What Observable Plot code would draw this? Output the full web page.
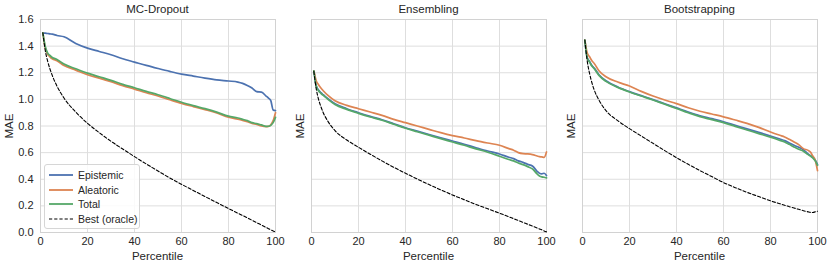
<!DOCTYPE html>
<html><head><meta charset="utf-8">
<script src="https://cdn.jsdelivr.net/npm/d3@7"></script>
<script src="https://cdn.jsdelivr.net/npm/@observablehq/plot@0.6"></script>
<style>
body{margin:0;background:#fff;}
#chart{position:relative;width:831px;height:268px;font-family:"Liberation Sans",Arial,sans-serif;color:#262626;overflow:hidden;}
.panel{position:absolute;top:0;}
.lbl{position:absolute;white-space:nowrap;transform:translate(-50%,-50%);font-size:11.5px;line-height:1;}
.ylbl{position:absolute;white-space:nowrap;transform:translate(-50%,-50%) rotate(-90deg);font-size:11.5px;line-height:1;}
#legend{position:absolute;left:44px;top:164px;width:96px;height:65px;border:1px solid #d6d6d6;border-radius:3px;background:rgba(255,255,255,0.85);box-sizing:border-box;font-size:10.5px;}
#legend .row{position:absolute;left:4px;height:14px;display:flex;align-items:center;white-space:nowrap;}
#legend svg{width:24px;height:6px;margin-right:5px;flex:none;}
</style>
</head><body>
<div id="chart"></div>
<script>
// Shared percentile positions
const pct = [1,2,3,4,5,7,10,15,20,25,30,35,40,45,50,55,60,65,70,75,80,84,86,88,90,92,94,96,97,98,99,100];

// Tick values
const xTicks = [0,20,40,60,80,100];
const yTicks = [0,0.2,0.4,0.6,0.8,1.0,1.2,1.4,1.6];

// Panel titles and series names
const panelTitles = ["MC-Dropout","Ensembling","Bootstrapping"];
const seriesNames = ["Epistemic","Aleatoric","Total","Best (oracle)"];

// MC-Dropout
const mcEpistemic = [1.50,1.497,1.495,1.492,1.49,1.48,1.47,1.42,1.385,1.36,1.335,1.305,1.28,1.255,1.232,1.21,1.19,1.175,1.16,1.147,1.138,1.13,1.12,1.105,1.085,1.058,1.055,1.025,1.01,0.99,0.92,0.915];
const mcAleatoric = [1.50,1.39,1.34,1.32,1.305,1.29,1.255,1.22,1.185,1.16,1.133,1.103,1.077,1.05,1.025,0.997,0.97,0.946,0.923,0.898,0.866,0.851,0.842,0.832,0.82,0.812,0.80,0.795,0.797,0.81,0.84,0.90];
const mcTotal = [1.50,1.40,1.35,1.33,1.315,1.30,1.265,1.23,1.197,1.17,1.143,1.113,1.087,1.06,1.035,1.007,0.978,0.953,0.93,0.904,0.874,0.86,0.85,0.84,0.825,0.818,0.808,0.797,0.798,0.805,0.825,0.865];
const mcOracle = [1.50,1.37,1.29,1.23,1.18,1.10,1.01,0.905,0.82,0.75,0.685,0.627,0.57,0.515,0.462,0.41,0.362,0.316,0.27,0.225,0.18,0.145,0.128,0.11,0.092,0.074,0.056,0.038,0.029,0.02,0.012,0.004];

// Ensembling
const enEpistemic = [1.215,1.105,1.07,1.05,1.035,1.005,0.967,0.93,0.90,0.872,0.847,0.817,0.787,0.762,0.736,0.711,0.687,0.663,0.637,0.612,0.59,0.565,0.555,0.538,0.527,0.512,0.50,0.46,0.445,0.44,0.445,0.428];
const enAleatoric = [1.215,1.14,1.11,1.085,1.065,1.03,0.99,0.955,0.93,0.905,0.88,0.85,0.825,0.80,0.775,0.75,0.728,0.71,0.69,0.672,0.655,0.63,0.618,0.60,0.592,0.59,0.585,0.575,0.57,0.568,0.565,0.605];
const enTotal = [1.215,1.10,1.065,1.045,1.03,1.0,0.962,0.925,0.895,0.868,0.843,0.813,0.783,0.757,0.731,0.705,0.68,0.655,0.628,0.603,0.573,0.548,0.538,0.522,0.51,0.495,0.478,0.44,0.425,0.418,0.415,0.41];
const enOracle = [1.21,1.08,1.0,0.945,0.90,0.835,0.765,0.695,0.64,0.588,0.538,0.49,0.445,0.402,0.36,0.32,0.282,0.246,0.211,0.178,0.145,0.118,0.104,0.09,0.076,0.062,0.048,0.034,0.027,0.02,0.012,0.005];

// Bootstrapping
const bsEpistemic = [1.445,1.315,1.285,1.255,1.235,1.185,1.14,1.093,1.058,1.028,0.998,0.967,0.936,0.905,0.877,0.855,0.832,0.805,0.778,0.752,0.725,0.702,0.69,0.672,0.655,0.64,0.622,0.59,0.578,0.565,0.545,0.51];
const bsAleatoric = [1.445,1.35,1.32,1.29,1.27,1.215,1.17,1.13,1.10,1.06,1.025,0.995,0.968,0.937,0.911,0.89,0.869,0.845,0.82,0.79,0.755,0.73,0.718,0.70,0.68,0.66,0.63,0.617,0.605,0.575,0.545,0.465];
const bsTotal = [1.445,1.31,1.28,1.25,1.23,1.18,1.135,1.09,1.055,1.025,0.995,0.963,0.932,0.90,0.87,0.848,0.825,0.797,0.77,0.743,0.716,0.692,0.68,0.662,0.643,0.625,0.61,0.585,0.575,0.56,0.54,0.505];
const bsOracle = [1.445,1.29,1.195,1.125,1.07,0.995,0.915,0.84,0.78,0.725,0.67,0.615,0.562,0.512,0.465,0.42,0.375,0.337,0.302,0.27,0.238,0.216,0.205,0.194,0.184,0.174,0.164,0.155,0.151,0.15,0.155,0.16];

const colors = ["#4C72B0","#DD8452","#55A868","#000000"];
const panels = [
  {series:[mcEpistemic,mcAleatoric,mcTotal,mcOracle], left:0, width:280, ml:40, mr:5, showY:true},
  {series:[enEpistemic,enAleatoric,enTotal,enOracle], left:280, width:271, ml:31, mr:5, showY:false},
  {series:[bsEpistemic,bsAleatoric,bsTotal,bsOracle], left:551, width:280, ml:31, mr:14, showY:false}
];

const chart = document.getElementById("chart");
const FONT = '"Liberation Sans",Arial,sans-serif';
const H = 268, MT = 19, MB = 36;

panels.forEach((p, i) => {
  const lineMarks = p.series.map((vals, k) => {
    const data = pct.map((x, j) => ({x, y: vals[j]}));
    return k < 3
      ? Plot.line(data, {x:"x", y:"y", stroke: colors[k], strokeWidth: 1.7, curve:"monotone-x"})
      : Plot.line(data, {x:"x", y:"y", stroke: colors[k], strokeWidth: 1.1, strokeDasharray:"3.2,2", curve:"monotone-x"});
  });
  const marks = [
    Plot.gridX(xTicks, {stroke:"#dedede", strokeOpacity:1, strokeWidth:1}),
    Plot.gridY(yTicks, {stroke:"#dedede", strokeOpacity:1, strokeWidth:1}),
    Plot.frame({stroke:"#d2d2d2", strokeWidth:1}),
    Plot.axisX(xTicks, {tickSize:0, tickPadding:5, label:null, tickFormat: d => String(d), fontSize: 11}),
    ...lineMarks
  ];
  if (p.showY) marks.push(Plot.axisY(yTicks, {tickSize:0, tickPadding:7, label:null, tickFormat: d3.format(".1f"), fontSize: 11}));
  const svg = Plot.plot({
    width: p.width, height: H,
    marginLeft: p.ml, marginRight: p.mr, marginTop: MT, marginBottom: MB,
    x: {domain:[0,100], label:null},
    y: p.showY ? {domain:[0,1.6], label:null} : {domain:[0,1.6], label:null, axis:null},
    style: {fontFamily: FONT, fontSize:"11px", color:"#262626", background:"transparent", overflow:"visible"},
    marks
  });
  const wrap = document.createElement("div");
  wrap.className = "panel";
  wrap.style.left = p.left + "px";
  wrap.appendChild(svg);
  chart.appendChild(wrap);

  const cx = p.left + p.ml + (p.width - p.ml - p.mr) / 2;
  const t = document.createElement("div");
  t.className = "lbl"; t.textContent = panelTitles[i];
  t.style.left = cx + "px"; t.style.top = "10px";
  chart.appendChild(t);

  const xl = document.createElement("div");
  xl.className = "lbl"; xl.textContent = "Percentile";
  xl.style.left = cx + "px"; xl.style.top = "257px";
  chart.appendChild(xl);

  const yl = document.createElement("div");
  yl.className = "ylbl"; yl.textContent = "MAE";
  yl.style.left = (p.left + (p.showY ? 10 : 21)) + "px"; yl.style.top = "126px";
  chart.appendChild(yl);
});

// Legend (first panel)
const legend = document.createElement("div");
legend.id = "legend";
seriesNames.forEach((name, k) => {
  const row = document.createElement("div");
  row.className = "row";
  row.style.top = (3 + k * 14.6) + "px";
  const dash = k === 3 ? ' stroke-dasharray="3.2,2"' : '';
  const sw = k === 3 ? 1.1 : 1.8;
  row.innerHTML = `<svg viewBox="0 0 24 6"><line x1="0" y1="3" x2="24" y2="3" stroke="${colors[k]}" stroke-width="${sw}"${dash}/></svg><span>${name}</span>`;
  legend.appendChild(row);
});
chart.appendChild(legend);
</script>
</body></html>
